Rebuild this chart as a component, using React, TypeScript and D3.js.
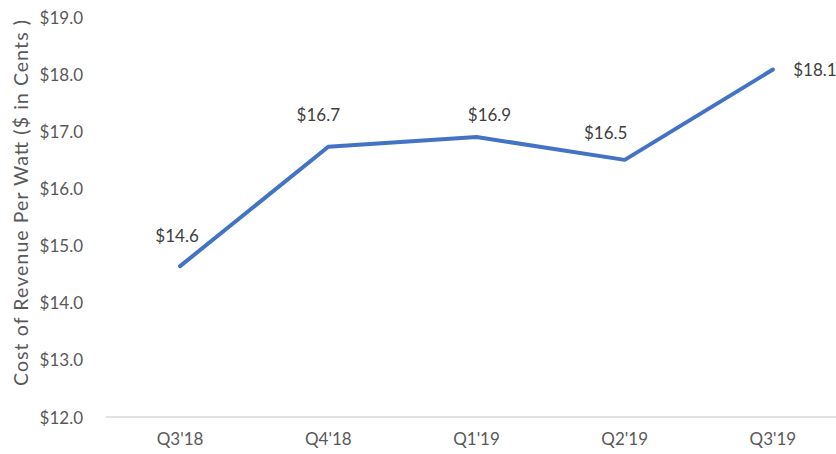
import React from "react";
import * as d3 from "d3";

const categories = ["Q3'18", "Q4'18", "Q1'19", "Q2'19", "Q3'19"];
const values = [14.64, 16.73, 16.9, 16.5, 18.08];
const valueLabels = ["$14.6", "$16.7", "$16.9", "$16.5", "$18.1"];
const yTicks = [12, 13, 14, 15, 16, 17, 18, 19];

const labelOffsets: [number, number][] = [
  [-3, -31],
  [-10, -32],
  [13, -23],
  [-19, -27],
  [42, 0],
];

const W = 836;
const H = 454;
const M = { left: 106, right: -11, top: 17, bottom: 37 };
const FONT = "Lato, 'Open Sans', sans-serif";
const TXT = "#595959";

export default function App() {
  const x = d3
    .scaleBand<string>()
    .domain(categories)
    .range([M.left, W - M.right])
    .paddingInner(0)
    .paddingOuter(0);
  const y = d3.scaleLinear().domain([12, 19]).range([H - M.bottom, M.top]);
  const cx = (c: string) => (x(c) as number) + x.bandwidth() / 2;
  const line = d3
    .line<number>()
    .x((_, i) => cx(categories[i]))
    .y((d) => y(d));

  return (
    <svg
      width={W}
      height={H}
      style={{ position: "absolute", left: 0, top: 0, background: "#fff" }}
      fontFamily={FONT}
    >
      <line x1={M.left} x2={W} y1={y(12)} y2={y(12)} stroke="#d9d9d9" strokeWidth={1.3} />
      {yTicks.map((t) => (
        <text
          key={t}
          x={83}
          y={y(t)}
          textAnchor="end"
          dominantBaseline="central"
          fontSize={17}
          fill={TXT}
        >
          {"$" + t.toFixed(1)}
        </text>
      ))}
      {categories.map((c) => (
        <text
          key={c}
          x={cx(c)}
          y={438}
          textAnchor="middle"
          dominantBaseline="central"
          fontSize={17}
          fill={TXT}
        >
          {c}
        </text>
      ))}
      <text
        transform={`translate(20,203) rotate(-90)`}
        textAnchor="middle"
        dominantBaseline="central"
        fontSize={19.5}
        fill={TXT}
        textLength={366}
        lengthAdjust="spacing"
      >
        Cost of Revenue  Per Watt ($ in Cents )
      </text>
      <path
        d={line(values) || ""}
        fill="none"
        stroke="#4472C4"
        strokeWidth={4}
        strokeLinejoin="round"
        strokeLinecap="round"
      />
      {values.map((v, i) => (
        <text
          key={i}
          x={cx(categories[i]) + labelOffsets[i][0]}
          y={y(v) + labelOffsets[i][1]}
          textAnchor="middle"
          dominantBaseline="central"
          fontSize={17}
          fill="#404040"
        >
          {valueLabels[i]}
        </text>
      ))}
    </svg>
  );
}
